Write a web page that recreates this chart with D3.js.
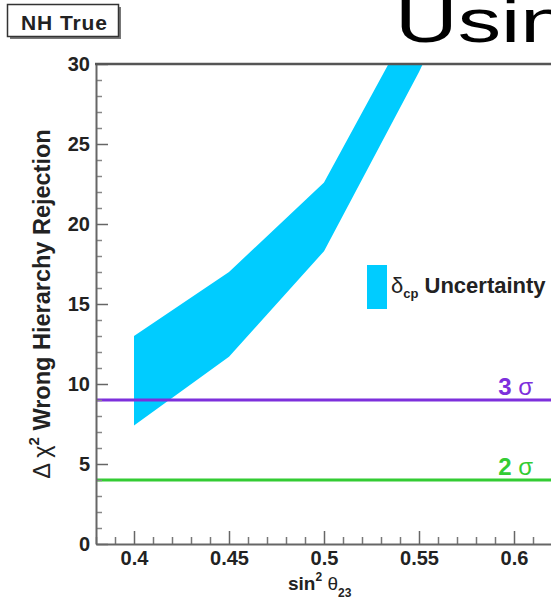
<!DOCTYPE html>
<html>
<head>
<meta charset="utf-8">
<script src="https://cdn.jsdelivr.net/npm/d3@7"></script>
<style>
  body { margin: 0; background: #fff; }
  svg { display: block; font-family: "Liberation Sans", Arial, Helvetica, sans-serif; }
</style>
</head>
<body>
<svg width="551" height="600"></svg>
<script>
// band of delta chi^2 over the dcp range
const sin2 = [0.4, 0.45, 0.5, 0.55, 0.6];
const chiHigh = [13.0, 17.0, 22.6, 33.5, 45.0];
const chiLow = [7.4, 11.7, 18.3, 29.5, 42.0];

// significance lines
const sigmaLevels = [3, 2];
const sigmaChi2 = [9, 4];
const sigmaColors = ['#7d2fdc', '#33cc33'];

const xTicks = [0.4, 0.45, 0.5, 0.55, 0.6];
const yTicks = [0, 5, 10, 15, 20, 25, 30];

const svg = d3.select('svg');

// frame edges in pixels
const frameL = 96, frameR = 552, frameT = 64, frameB = 544;

const x = d3.scaleLinear().domain([0.38, 0.62]).range([frameL, frameR]);
const y = d3.scaleLinear().domain([0, 30]).range([frameB, frameT]);

svg.append('clipPath').attr('id', 'plot')
  .append('rect')
  .attr('x', frameL).attr('y', frameT)
  .attr('width', frameR - frameL).attr('height', frameB - frameT);

// the dcp band
const band = sin2.map((s, i) => ({ s: s, hi: chiHigh[i], lo: chiLow[i] }));
const area = d3.area()
  .x(d => x(d.s))
  .y0(d => y(d.lo))
  .y1(d => y(d.hi));

svg.append('path')
  .datum(band)
  .attr('clip-path', 'url(#plot)')
  .attr('fill', '#00ccff')
  .attr('d', area);

// 3 sigma and 2 sigma lines
sigmaChi2.forEach((v, i) => {
  svg.append('line')
    .attr('clip-path', 'url(#plot)')
    .attr('x1', frameL).attr('x2', frameR)
    .attr('y1', y(v)).attr('y2', y(v))
    .attr('stroke', sigmaColors[i])
    .attr('stroke-width', 3);

  const lab = svg.append('text')
    .attr('x', 533)
    .attr('y', y(v) - 5)
    .attr('text-anchor', 'end')
    .attr('fill', sigmaColors[i])
    .attr('font-size', 24);
  lab.append('tspan').attr('font-weight', 'bold').text(sigmaLevels[i]);
  lab.append('tspan').text(' \u03c3');
});

// axes, ticks point inward like ROOT
const xMinor = d3.range(38, 63).map(d => d / 100).filter(d => !xTicks.some(t => Math.abs(t - d) < 1e-9));
const yMinor = d3.range(0, 31).filter(d => d % 5 !== 0);

svg.append('g')
  .attr('transform', `translate(0,${frameB})`)
  .call(d3.axisBottom(x).tickValues(xMinor).tickSize(-7).tickSizeOuter(0).tickFormat(''))
  .call(g => g.select('.domain').remove())
  .call(g => g.selectAll('line').attr('stroke', '#777').attr('stroke-width', 1.5));

svg.append('g')
  .attr('transform', `translate(0,${frameB})`)
  .call(d3.axisBottom(x).tickValues(xTicks).tickSize(-13).tickSizeOuter(0).tickPadding(7).tickFormat(d => String(d)))
  .call(g => g.select('.domain').attr('stroke', '#666').attr('stroke-width', 2))
  .call(g => g.selectAll('line').attr('stroke', '#666').attr('stroke-width', 1.5))
  .call(g => g.selectAll('text')
    .attr('font-family', null)
    .attr('font-size', 20)
    .attr('font-weight', 'bold')
    .attr('fill', '#222'));

svg.append('g')
  .attr('transform', `translate(${frameL},0)`)
  .call(d3.axisLeft(y).tickValues(yMinor).tickSize(-6).tickSizeOuter(0).tickFormat(''))
  .call(g => g.select('.domain').remove())
  .call(g => g.selectAll('line').attr('stroke', '#888').attr('stroke-width', 1.5));

svg.append('g')
  .attr('transform', `translate(${frameL},0)`)
  .call(d3.axisLeft(y).tickValues(yTicks).tickSize(-12).tickSizeOuter(0).tickPadding(6))
  .call(g => g.select('.domain').attr('stroke', '#666').attr('stroke-width', 2))
  .call(g => g.selectAll('line').attr('stroke', '#666').attr('stroke-width', 1.5))
  .call(g => g.selectAll('text')
    .attr('font-family', null)
    .attr('font-size', 20)
    .attr('font-weight', 'bold')
    .attr('fill', '#222'));

// top frame edge
svg.append('line')
  .attr('x1', frameL - 1).attr('x2', frameR)
  .attr('y1', frameT).attr('y2', frameT)
  .attr('stroke', '#555')
  .attr('stroke-width', 2.5);

// axis titles
const xt = svg.append('text')
  .attr('x', 288).attr('y', 590)
  .attr('fill', '#222')
  .attr('font-size', 19);
xt.append('tspan').attr('font-weight', 'bold').text('sin');
xt.append('tspan').attr('font-weight', 'bold').attr('font-size', 12).attr('dy', -9).text('2');
xt.append('tspan').attr('dy', 9).text(' \u03b8');
xt.append('tspan').attr('font-weight', 'bold').attr('font-size', 12).attr('dy', 7).text('23');

const yt = svg.append('text')
  .attr('transform', 'translate(50,304) rotate(-90)')
  .attr('text-anchor', 'middle')
  .attr('fill', '#222')
  .attr('font-size', 23.5);
yt.append('tspan').text('\u0394 \u03c7');
yt.append('tspan').attr('font-weight', 'bold').attr('font-size', 15).attr('dy', -11).text('2');
yt.append('tspan').attr('font-weight', 'bold').attr('dy', 11).text(' Wrong Hierarchy Rejection');

// legend
svg.append('rect')
  .attr('x', 367).attr('y', 265)
  .attr('width', 20).attr('height', 44)
  .attr('fill', '#00ccff');

const lg = svg.append('text')
  .attr('x', 391).attr('y', 293)
  .attr('fill', '#222')
  .attr('font-size', 22);
lg.append('tspan').text('\u03b4');
lg.append('tspan').attr('font-weight', 'bold').attr('font-size', 13).attr('dy', 5).text('cp');
lg.append('tspan').attr('font-weight', 'bold').attr('dy', -5).text(' Uncertainty');

// NH True pave with shadow
svg.append('rect')
  .attr('x', 10).attr('y', 7)
  .attr('width', 111).attr('height', 32)
  .attr('fill', '#777');
svg.append('rect')
  .attr('x', 7.5).attr('y', 4.5)
  .attr('width', 111).attr('height', 32)
  .attr('fill', '#fff')
  .attr('stroke', '#333')
  .attr('stroke-width', 1.5);
svg.append('text')
  .attr('x', 64).attr('y', 30)
  .attr('text-anchor', 'middle')
  .attr('font-size', 21)
  .attr('font-weight', 'bold')
  .attr('fill', '#222')
  .attr('textLength', 86)
  .text('NH True');

// title, cut off by the page edge in the original too
svg.append('text')
  .attr('transform', 'translate(395,42) scale(1.4,1)')
  .attr('font-size', 62)
  .attr('fill', '#000')
  .text('Using');
</script>
</body>
</html>
